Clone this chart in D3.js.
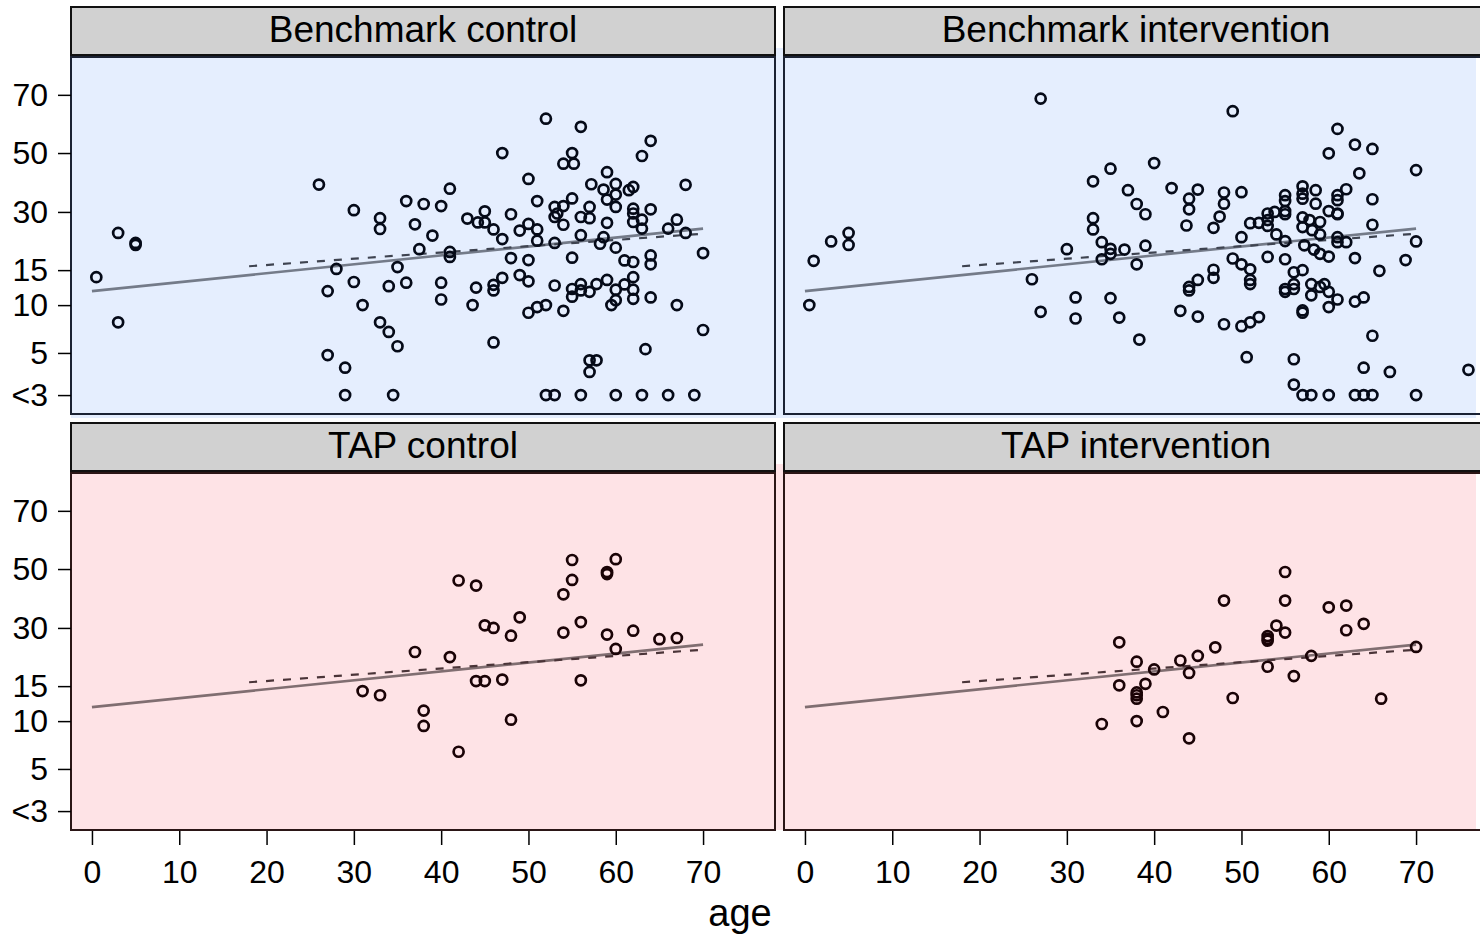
<!DOCTYPE html>
<html>
<head>
<meta charset="utf-8">
<script src="https://cdn.jsdelivr.net/npm/d3@7"></script>
<style>
	body { margin: 0; background: #fff; }
	svg { display: block; font-family: "Liberation Sans", Arial, sans-serif; }
</style>
</head>
<body>
<svg class="chart" width="1480" height="936"></svg>
<script>
//panel titles
let panelTitles = ["Benchmark control", "Benchmark intervention", "TAP control", "TAP intervention"];

//y ticks (transformed axis), value and relative position in the plot
let yTickVals = [3, 5, 10, 15, 30, 50, 70];
let yTickLabels = ["<3", "5", "10", "15", "30", "50", "70"];
let yTickFrac = [0.947, 0.829, 0.695, 0.597, 0.434, 0.269, 0.106];
let xTickVals = [0, 10, 20, 30, 40, 50, 60, 70];

//fitted lines [age, value]
let fitSolid = [[0, 12.0], [70, 25.7]];
let fitDashed = [[18, 16.0], [70, 24.4]];

//[age, value]
let benchControl = [
	[0.5,14],[3,24.6],[5,21.5],[5,22],[3,8.2],[26,39.3],[30,30.6],[33,28.4],[33,25.6],[36,33.7],
	[37,26.8],[37.5,20.4],[28,15.3],[35,15.8],[30,13.3],[34,12.7],[36,13.2],[27,12],[31,10],[33,8.2],
	[34,7.2],[35,5.7],[27,4.9],[29,4.3],[29,3],[34.5,3],[52,61.8],[56,59],[47,50],[55,50],
	[54,46.4],[55.2,46.4],[50,41.2],[41,37.9],[38,32.7],[40,32],[57.2,39.4],[51,33.7],[53,31.7],[54,32],
	[55,34.6],[53,28.7],[53.3,29.6],[54,26.7],[56,28.7],[57,31.7],[57,28.4],[56,24],[45,30.2],[43,28.3],
	[44.2,27.3],[45,27.3],[46,25.5],[47,23],[48,29.4],[49,25.2],[50,26.9],[51,25.5],[51,22.6],[53,22],
	[39,23.9],[41,19.7],[41,18.4],[48,18.1],[50,17.6],[55,18.2],[40,13.2],[40,10.8],[44,12.5],[43.6,10],
	[46,12.9],[46,12.1],[47,13.9],[49,14.3],[50,13.4],[53,12.8],[50,9.2],[51,9.8],[52,10],[54,9.4],
	[55,12.3],[55,11.2],[56,13],[56,12.1],[57,11.9],[57.8,13],[46,6.1],[57,4.65],[57.8,4.65],[57,4.1],
	[52,3],[53,3],[56,3],[64,54.2],[63,49],[59,43.5],[68,39.2],[60,39.5],[58.6,37.6],[60,35.9],
	[61.5,37.4],[62,38.5],[59,34.2],[60,31.7],[62,31.1],[62,29.6],[62,27.4],[63,28],[64,30.9],[63,25.7],
	[59,27.2],[67,28],[66,25.7],[68,24.6],[58.6,23.5],[60,20.8],[58.2,21.8],[61,17.5],[62,17.1],[64,18.8],
	[64,16.5],[70,19.4],[59,13.6],[60,12.2],[61,12.96],[62,14],[62,12.2],[62,10.9],[64,11.1],[59.5,10],
	[60,10.7],[67,10],[70,7.4],[63.4,5.4],[60,3],[63,3],[66,3],[69,3]
];

let benchIntervention = [
	[27,68.7],[3,22.4],[5,24.6],[5,21.5],[1,17.4],[0.5,10],[30,20.4],[26,13.7],[27,9.3],[31,11.1],
	[31,8.6],[49,64.4],[35,44.7],[40,46.6],[33,40.4],[37,37.4],[38,32.7],[39,29.4],[42,38.1],[45,37.6],
	[44,34.5],[44,30.9],[43.7,26.5],[48,36.6],[48,32.8],[47.5,28.8],[46.8,25.9],[50,36.7],[33,28.4],[33,25.5],
	[34,22.2],[35,20.5],[35,19.2],[36.6,20.3],[39,21.3],[34,17.8],[38,16.5],[35,11],[36,8.7],[38.3,6.4],
	[43,9.4],[45,8.8],[48,8],[50,7.8],[44,12.6],[44,12.1],[45,13.6],[46.8,15.1],[46.8,13.9],[49,18],
	[50,16.5],[50,23.5],[50.6,4.8],[61,58.3],[63,52.9],[65,51.4],[60,49.9],[63.5,43.1],[70,44.2],[57,38.7],
	[57,36.2],[57,34.5],[58.5,37.4],[58.5,32.8],[55,35.7],[55,33.7],[55,30.3],[55,29.4],[62,37.7],[61,35.7],
	[61,34],[61,29.6],[61,29.4],[60,30.3],[65,34.3],[53,29.6],[53,27.9],[52,27.2],[51,27.1],[53,26.4],
	[53.8,30],[54,24.2],[57,28.6],[57.8,27.9],[59,27.4],[58.1,25.3],[59,24.2],[57,26.1],[55,22.5],[65,26.7],
	[61,23.5],[61,22.2],[62,22.2],[70,22.4],[57.2,21.4],[58.3,20.3],[59,19.2],[60,18.5],[63,18.1],[68.8,17.6],
	[65.8,14.9],[53,18.4],[55,17.8],[51,15.2],[51,13.6],[51,13],[52,8.75],[51,8.2],[56,14.7],[57,15],
	[56,13],[55,12.3],[55,11.9],[56,12.3],[58,13],[58,11.4],[59.5,13],[59,12.6],[60,11.9],[61,10.8],
	[60,9.8],[63,10.5],[64,11.1],[57,9.45],[57,9.2],[65,6.8],[56,4.7],[64,4.3],[67,4.1],[76,4.2],
	[56,3.5],[57,3],[58,3],[60,3],[63,3],[64,3],[65,3],[70,3]
];

let tapControl = [
	[55,53.1],[60,53.4],[59,49],[59,48.3],[55,46.3],[54,41.4],[42,46.1],[44,44.4],[49,33.6],[45,30.9],
	[46,30],[48,28],[56,32],[54,28.8],[59,28.3],[62,29.3],[65,27.1],[67,27.4],[60,24.6],[37,23.8],
	[41,22.5],[44,16.3],[45,16.3],[47,16.7],[56,16.5],[31,14.3],[33,13.7],[38,11.5],[38,9.5],[48,10.2],
	[42,6.8]
];

let tapIntervention = [
	[55,49],[48,39.3],[55,39.3],[60,37],[62,37.6],[64,31.4],[54,30.8],[55,28.8],[62,29.4],[53,27.9],
	[53,27.2],[53,26.7],[36,26.3],[47,25],[38,21.3],[40,19.3],[43,21.6],[45,22.8],[44,18.4],[53,20],
	[56,17.6],[58,22.8],[70,25.1],[36,15.2],[39,15.6],[38,14.1],[38,13.7],[38,13.2],[49,13.3],[66,13.2],
	[41,11.3],[34,9.7],[38,10],[44,8.2]
];

let panelData = [benchControl, benchIntervention, tapControl, tapIntervention];

//row styles
let rowStyle = [
	{bg: "#e5eefe", frame: "#1b2233", point: "#050a18", solid: "#747b89", dash: "#3e4350"},
	{bg: "#fee3e6", frame: "#2b1616", point: "#1a0306", solid: "#806e71", dash: "#4a3438"}
];

let svg = d3.select(".chart"),
	colX = [71, 784],
	panelW = 704,
	headerY = [7, 423],
	headerH = 48,
	plotY = [57, 473],
	plotH = 357;

let x = d3.scaleLinear().domain([-2.4, 78.24]).range([0, panelW]);
let y = d3.scaleLinear().domain(yTickVals).range(yTickFrac.map(function(f){ return f * plotH; }));

//row backgrounds
svg.append("rect").attr("x", 71).attr("y", 48).attr("width", 1405).attr("height", 370).style("fill", rowStyle[0].bg);
svg.append("rect").attr("x", 71).attr("y", 464).attr("width", 1405).attr("height", 366).style("fill", rowStyle[1].bg);

function drawPanel(i){
	let row = Math.floor(i / 2), col = i % 2;
	let st = rowStyle[row];

	//header strip
	let head = svg.append("g").attr("transform", "translate(" + colX[col] + "," + headerY[row] + ")");
	head.append("rect")
		.attr("width", panelW)
		.attr("height", headerH)
		.style("fill", "#d1d1d1")
		.style("stroke", "#111")
		.style("stroke-width", 2);
	head.append("text")
		.attr("x", panelW / 2)
		.attr("y", 35)
		.attr("text-anchor", "middle")
		.style("font-size", "37px")
		.style("fill", "#000")
		.text(panelTitles[i]);

	let g = svg.append("g").attr("transform", "translate(" + colX[col] + "," + plotY[row] + ")");

	//fitted lines
	let line = d3.line()
		.x(function(d){ return x(d[0]); })
		.y(function(d){ return y(d[1]); });
	g.append("path")
		.datum(fitSolid)
		.attr("d", line)
		.style("fill", "none")
		.style("stroke", st.solid)
		.style("stroke-width", 2.6);
	g.append("path")
		.datum(fitDashed)
		.attr("d", line)
		.style("fill", "none")
		.style("stroke", st.dash)
		.style("stroke-width", 2.2)
		.style("stroke-dasharray", "8,9");

	//points
	g.selectAll(".pt")
		.data(panelData[i])
		.enter()
		.append("circle")
		.attr("class", "pt")
		.attr("cx", function(d){ return x(d[0]); })
		.attr("cy", function(d){ return y(d[1]); })
		.attr("r", 5)
		.style("fill", "none")
		.style("stroke", st.point)
		.style("stroke-width", 2.7);

	//frame
	g.append("rect")
		.attr("width", panelW)
		.attr("height", plotH)
		.style("fill", "none")
		.style("stroke", st.frame)
		.style("stroke-width", 2);

	//y axis on left column
	if(col === 0){
		let yAxis = d3.axisLeft(y)
			.tickValues(yTickVals)
			.tickFormat(function(d, k){ return yTickLabels[k]; })
			.tickSize(13)
			.tickPadding(10);
		let ya = g.append("g").call(yAxis);
		ya.select(".domain").remove();
		ya.selectAll("line").style("stroke", "#000").style("stroke-width", 1.5);
		ya.selectAll("text")
			.style("font-size", "32px")
			.style("font-family", "'Liberation Sans', Arial, sans-serif")
			.style("fill", "#000");
	}

	//x axis on bottom row
	if(row === 1){
		let xAxis = d3.axisBottom(x)
			.tickValues(xTickVals)
			.tickSize(14)
			.tickPadding(15);
		let xa = g.append("g")
			.attr("transform", "translate(0," + (plotH + 1) + ")")
			.call(xAxis);
		xa.select(".domain").remove();
		xa.selectAll("line").style("stroke", "#000").style("stroke-width", 1.5);
		xa.selectAll("text")
			.style("font-size", "32px")
			.style("font-family", "'Liberation Sans', Arial, sans-serif")
			.style("fill", "#000");
	}
}

for(let i = 0; i < 4; i++){
	drawPanel(i);
}

//x axis title
svg.append("text")
	.attr("x", 740)
	.attr("y", 926)
	.attr("text-anchor", "middle")
	.style("font-size", "38px")
	.style("fill", "#000")
	.text("age");
</script>
</body>
</html>
